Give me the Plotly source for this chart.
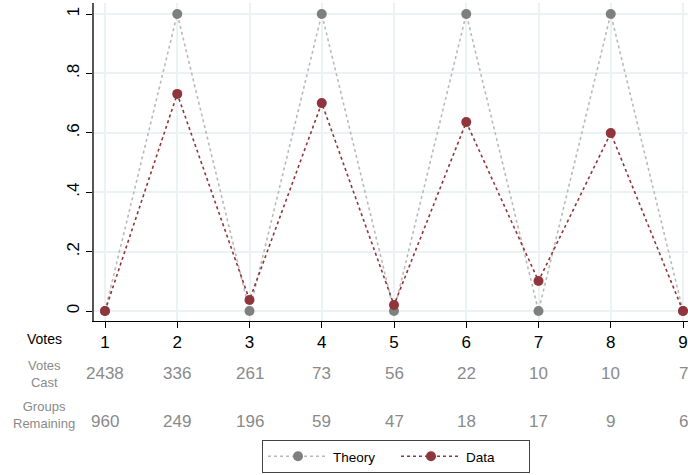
import plotly.graph_objects as go

# Sequence position of each vote
votes = [1, 2, 3, 4, 5, 6, 7, 8, 9]

# Predicted vs. observed share
theory = [0, 1, 0, 1, 0, 1, 0, 1, 0]
data = [0, 0.731, 0.037, 0.700, 0.020, 0.636, 0.101, 0.599, 0]

# Counts shown beneath the axis
votes_cast = [2438, 336, 261, 73, 56, 22, 10, 10, 7]
groups_remaining = [960, 249, 196, 59, 47, 18, 17, 9, 6]

y_ticks = [0, 0.2, 0.4, 0.6, 0.8, 1]
y_tick_text = ["0", ".2", ".4", ".6", ".8", "1"]

FONT = "Liberation Sans, Arial, sans-serif"
GRAY_MARK = "#7f7f7f"
GRAY_LINE = "#b9b9b9"
RED = "#90353b"
GRID = "#eaf2f3"
LABEL_GRAY = "#8a8a8a"

fig = go.Figure()
fig.add_trace(go.Scatter(
    x=votes, y=theory, name="Theory", mode="lines+markers",
    line=dict(color=GRAY_LINE, width=1.6, dash="dot"),
    marker=dict(color=GRAY_MARK, size=10),
))
fig.add_trace(go.Scatter(
    x=votes, y=data, name="Data", mode="lines+markers",
    line=dict(color=RED, width=1.6, dash="dot"),
    marker=dict(color=RED, size=10),
))

W, H = 688, 475
L, T, B = 94, 3, 154
plot_h = H - T - B


def py(pix):
    """Convert a pixel row to paper coordinates."""
    return (H - B - pix) / plot_h


def px(pix):
    return (pix - L) / (W - L)


annotations = []
for v, c, g in zip(votes, votes_cast, groups_remaining):
    annotations.append(dict(x=v, y=py(373), xref="x", yref="paper", text=str(c),
                            showarrow=False, font=dict(size=17, color=LABEL_GRAY, family=FONT),
                            xanchor="center", yanchor="middle"))
    annotations.append(dict(x=v, y=py(421), xref="x", yref="paper", text=str(g),
                            showarrow=False, font=dict(size=17, color=LABEL_GRAY, family=FONT),
                            xanchor="center", yanchor="middle"))

annotations.append(dict(x=px(44), y=py(339), xref="paper", yref="paper", text="Votes",
                        showarrow=False, font=dict(size=14, color="black", family=FONT),
                        xanchor="center", yanchor="middle"))
annotations.append(dict(x=px(44), y=py(374), xref="paper", yref="paper", text="Votes<br>Cast",
                        showarrow=False, font=dict(size=13, color=LABEL_GRAY, family=FONT),
                        xanchor="center", yanchor="middle", align="center"))
annotations.append(dict(x=px(44), y=py(415), xref="paper", yref="paper", text="Groups<br>Remaining",
                        showarrow=False, font=dict(size=13, color=LABEL_GRAY, family=FONT),
                        xanchor="center", yanchor="middle", align="center"))

fig.update_layout(
    width=W, height=H,
    margin=dict(l=L, r=0, t=T, b=B),
    plot_bgcolor="white", paper_bgcolor="white",
    font=dict(family=FONT, color="black"),
    annotations=annotations,
    showlegend=True,
    legend=dict(
        orientation="h", x=px(396), xanchor="center", y=py(440), yanchor="top",
        bordercolor="#444444", borderwidth=1, bgcolor="white",
        font=dict(size=13.5, family=FONT), itemwidth=60,
        entrywidth=58, entrywidthmode="pixels",
    ),
)

fig.update_xaxes(
    range=[1 - 11 / 72.25, 9 + 5 / 72.25],
    tickvals=votes, ticktext=[str(v) for v in votes],
    showgrid=True, gridcolor=GRID, gridwidth=1.5,
    showline=True, linecolor="black", linewidth=1,
    ticks="outside", ticklen=6, tickcolor="black",
    tickfont=dict(size=17, color="black"), zeroline=False,
)
fig.update_yaxes(
    range=[-10 / 297, 1 + 11 / 297],
    tickvals=y_ticks, ticktext=y_tick_text, tickangle=-90,
    showgrid=True, gridcolor=GRID, gridwidth=1.5,
    showline=True, linecolor="#555555", linewidth=1.5,
    ticks="outside", ticklen=6, tickcolor="black",
    tickfont=dict(size=17, color="black"), zeroline=False,
)

fig.write_html("out.html")
